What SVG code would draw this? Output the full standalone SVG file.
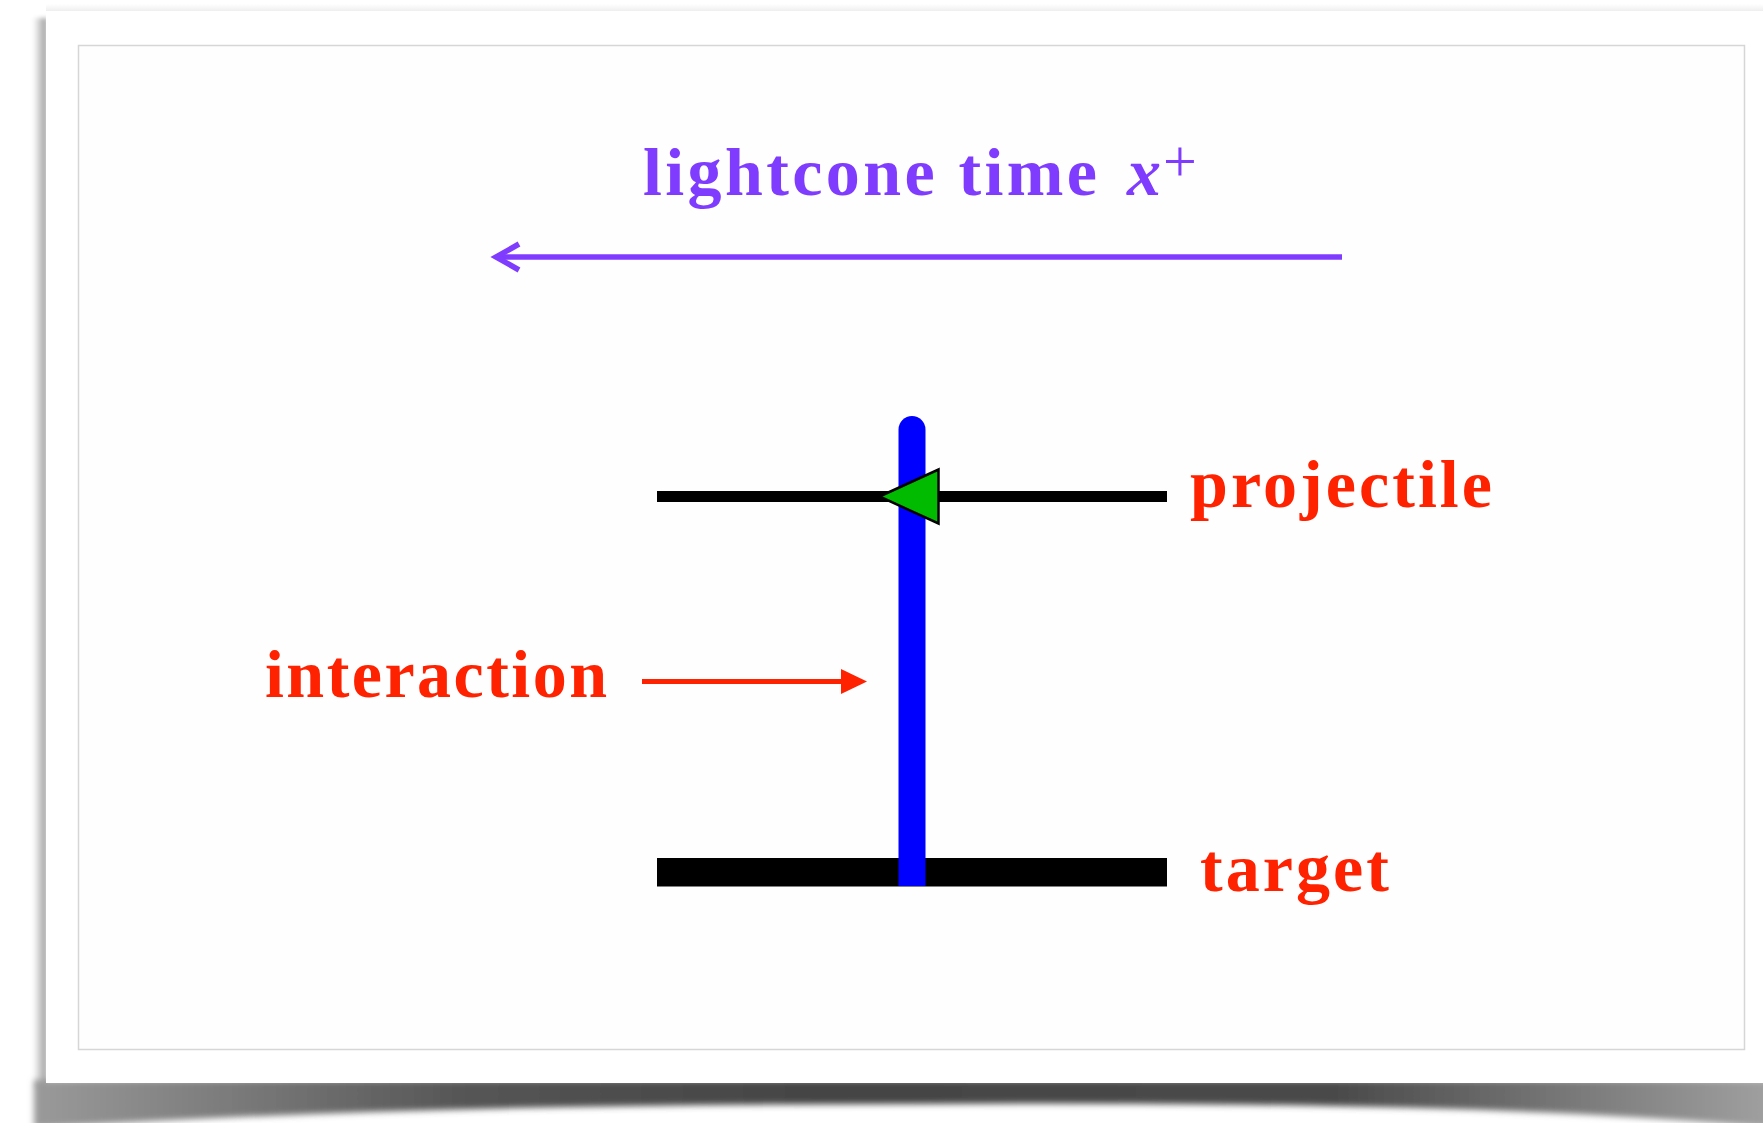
<svg xmlns="http://www.w3.org/2000/svg" width="1763" height="1123" viewBox="0 0 1763 1123">
  <style>
    .lbl { font-family: "Liberation Serif", "Times New Roman", serif; font-weight: bold; font-size: 68px; }
    .red { fill: #ff2200; }
    .purple { fill: #7f3cff; }
  </style>
  <defs>
    <linearGradient id="shadowH" x1="0" y1="0" x2="1" y2="0">
      <stop offset="0" stop-color="#9a9a9a"/>
      <stop offset="0.25" stop-color="#555"/>
      <stop offset="0.45" stop-color="#444"/>
      <stop offset="0.75" stop-color="#4a4a4a"/>
      <stop offset="1" stop-color="#a0a0a0"/>
    </linearGradient>
    <linearGradient id="shadowL" x1="0" y1="0" x2="1" y2="0">
      <stop offset="0" stop-color="#ffffff"/>
      <stop offset="1" stop-color="#999"/>
    </linearGradient>
    <linearGradient id="shadowT" x1="0" y1="0" x2="0" y2="1">
      <stop offset="0" stop-color="#ffffff"/>
      <stop offset="1" stop-color="#ececec"/>
    </linearGradient>
    <filter id="blur" x="-5%" y="-50%" width="110%" height="200%">
      <feGaussianBlur stdDeviation="3"/>
    </filter>
    <filter id="blurL" x="-100%" y="-5%" width="300%" height="110%">
      <feGaussianBlur stdDeviation="2"/>
    </filter>
  </defs>

  <rect x="0" y="0" width="1763" height="1123" fill="#ffffff"/>

  <!-- card shadows -->
  <g id="card-shadow">
    <rect x="46" y="4" width="1717" height="8" fill="url(#shadowT)"/>
    <rect x="33" y="18" width="14" height="1070" fill="url(#shadowL)" filter="url(#blurL)"/>
    <path d="M34,1080 L1770,1080 L1770,1128 Q1500,1100 900,1104 Q400,1104 34,1128 Z" fill="url(#shadowH)" filter="url(#blur)"/>
  </g>

  <!-- card -->
  <rect id="card" x="46" y="11" width="1730" height="1072" fill="#ffffff"/>
  <rect id="frame" x="78.5" y="45.5" width="1666" height="1004" fill="#fefefe" stroke="#d6d6d6" stroke-width="1.5"/>

  <!-- nodes -->
  <g id="heading">
    <text class="lbl purple" x="643" y="195" textLength="454" lengthAdjust="spacing">lightcone time</text>
    <text class="lbl purple" x="1127" y="195" font-style="italic">x</text>
    <text class="purple" x="1163" y="181" font-family="Liberation Serif, serif" font-size="60">+</text>
  </g>

  <g id="projectile">
    <rect x="657" y="491" width="510" height="11" fill="#000"/>
    <text class="lbl red" x="1190" y="507" textLength="302" lengthAdjust="spacing">projectile</text>
  </g>

  <g id="target">
    <rect x="657" y="858" width="510" height="28.5" fill="#000"/>
    <text class="lbl red" x="1200" y="891" textLength="189" lengthAdjust="spacing">target</text>
  </g>

  <g id="interaction-line">
    <path d="M898.5,886 L898.5,429.5 A13.5,13.5 0 0 1 925.5,429.5 L925.5,886 Z" fill="#0000ff"/>
  </g>

  <g id="direction-marker">
    <polygon points="879.5,496.5 938.5,469.5 938.5,523.5" fill="#00bb00" stroke="#000" stroke-width="2.5" stroke-linejoin="miter"/>
  </g>

  <g id="interaction-label">
    <text class="lbl red" x="265" y="697" textLength="342" lengthAdjust="spacing">interaction</text>
  </g>

  <!-- connectors -->
  <g id="connectors">
    <g id="time-arrow">
      <line x1="1342" y1="257" x2="498" y2="257" stroke="#7f3cff" stroke-width="5.5"/>
      <polyline points="519,244 496,257 519,270" fill="none" stroke="#7f3cff" stroke-width="5.5" stroke-linejoin="miter"/>
    </g>
    <g id="interaction-arrow">
      <line x1="642" y1="681.5" x2="845" y2="681.5" stroke="#ff2200" stroke-width="5"/>
      <polygon points="841,669 867,681.5 841,694" fill="#ff2200"/>
    </g>
  </g>
</svg>
